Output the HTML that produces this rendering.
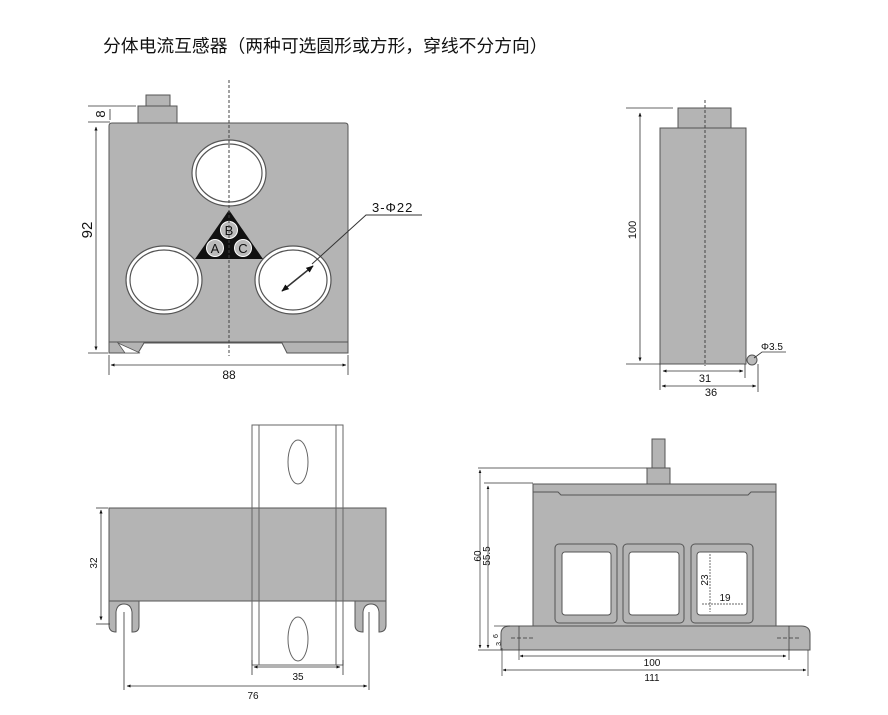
<!DOCTYPE html>
<html><head><meta charset="utf-8"><style>
html,body{margin:0;padding:0;background:#fff;width:888px;height:715px;overflow:hidden}
svg{display:block}
text{font-family:"Liberation Sans","Noto Sans CJK SC",sans-serif;fill:#111}
</style></head><body>
<svg width="888" height="715" viewBox="0 0 888 715" xmlns="http://www.w3.org/2000/svg">
<defs>
<marker id="a" viewBox="0 0 10 10" refX="9" refY="5" markerWidth="5" markerHeight="5" orient="auto-start-reverse"><path d="M0,1L10,5L0,9z" fill="#111"/></marker>
</defs>
<text x="103" y="52" font-size="17.8">分体电流互感器（两种可选圆形或方形，穿线不分方向）</text>

<!-- Drawing 1 -->
<g stroke="#555" stroke-width="1">
<rect x="146" y="95" width="24" height="11" fill="#b4b4b4"/>
<rect x="138" y="106" width="39" height="17" fill="#b4b4b4"/>
<path d="M109,126 Q109,123 112,123 L345,123 Q348,123 348,126 L348,342 L109,342Z" fill="#b4b4b4"/>
<path d="M109,342 L348,342 L348,353 L287,353 L282,343 L144,343 L138,353 L109,353Z" fill="#b4b4b4"/>
<path d="M109,353 L109,342" />
</g>
<path d="M118,343 L125,353 L140,353 Z" fill="#fff" stroke="#555" stroke-width="0.8"/>
<g fill="#fff" stroke="#555" stroke-width="1.2">
<ellipse cx="229" cy="173" rx="37" ry="33"/><ellipse cx="229" cy="173" rx="33" ry="29"/>
<ellipse cx="164" cy="280" rx="38" ry="34"/><ellipse cx="164" cy="280" rx="34" ry="30"/>
<ellipse cx="293" cy="280" rx="38" ry="34"/><ellipse cx="293" cy="280" rx="34" ry="30"/>
</g>
<path d="M229,210 L263,259 L195,259Z" fill="#111"/>
<g fill="#bbb" stroke="#fff" stroke-width="1"><circle cx="229" cy="230" r="8.5"/><circle cx="215" cy="248" r="8.5"/><circle cx="243" cy="248" r="8.5"/></g>
<text x="229" y="235" font-size="13" text-anchor="middle">B</text>
<text x="215" y="253" font-size="13" text-anchor="middle">A</text>
<text x="243" y="253" font-size="13" text-anchor="middle">C</text>
<line x1="229" y1="80" x2="229" y2="356" stroke="#444" stroke-dasharray="3,2" stroke-width="1"/>
<line x1="282" y1="291" x2="313" y2="266" stroke="#333" stroke-width="1.5" marker-start="url(#a)" marker-end="url(#a)"/>
<polyline points="312,264 366,215 422,215" fill="none" stroke="#333" stroke-width="1"/>
<text x="372" y="212" font-size="13" letter-spacing="1">3-Φ22</text>
<g stroke="#333" stroke-width="0.8" fill="none">
<line x1="88" y1="106" x2="136" y2="106"/><line x1="88" y1="122" x2="110" y2="122"/>
<line x1="96" y1="127" x2="96" y2="350" marker-start="url(#a)" marker-end="url(#a)"/>
<line x1="88" y1="353" x2="108" y2="353"/>
<line x1="111" y1="365" x2="346" y2="365" marker-start="url(#a)" marker-end="url(#a)"/>
<line x1="109" y1="355" x2="109" y2="375"/><line x1="348" y1="355" x2="348" y2="375"/>
<line x1="110" y1="109" x2="110" y2="120"/>
</g>
<text transform="translate(92,230) rotate(-90)" font-size="15" text-anchor="middle">92</text>
<text transform="translate(105,114) rotate(-90)" font-size="13" text-anchor="middle">8</text>
<text x="229" y="379" font-size="12" text-anchor="middle">88</text>

<!-- Drawing 2 -->
<g stroke="#555" stroke-width="1" fill="#b4b4b4">
<rect x="678" y="108" width="53" height="20"/>
<rect x="660" y="128" width="86" height="236"/>
</g>
<line x1="705" y1="100" x2="705" y2="366" stroke="#444" stroke-dasharray="3,2"/>
<circle cx="752" cy="360" r="5" fill="#bbb" stroke="#555"/>
<g stroke="#333" stroke-width="0.8" fill="none">
<line x1="626" y1="108" x2="673" y2="108"/><line x1="626" y1="364" x2="660" y2="364"/>
<line x1="640" y1="113" x2="640" y2="361" marker-start="url(#a)" marker-end="url(#a)"/>
<line x1="660" y1="364" x2="660" y2="390"/><line x1="745" y1="364" x2="745" y2="378"/><line x1="758" y1="364" x2="758" y2="392"/>
<line x1="663" y1="371" x2="743" y2="371" marker-start="url(#a)" marker-end="url(#a)"/>
<line x1="662" y1="386" x2="756" y2="386" marker-start="url(#a)" marker-end="url(#a)"/>
<polyline points="754,358 762,352 786,352"/>
</g>
<text transform="translate(636,230) rotate(-90)" font-size="11" text-anchor="middle">100</text>
<text x="705" y="382" font-size="11" text-anchor="middle">31</text>
<text x="711" y="396" font-size="11" text-anchor="middle">36</text>
<text x="761" y="350" font-size="10">Φ3.5</text>

<!-- Drawing 3 -->
<rect x="109" y="508" width="277" height="93" fill="#b4b4b4" stroke="#555"/>
<g fill="none" stroke="#666" stroke-width="1">
<rect x="252" y="425" width="91" height="240"/>
<line x1="259" y1="425" x2="259" y2="665"/><line x1="336" y1="425" x2="336" y2="665"/>
<ellipse cx="298" cy="462" rx="10" ry="22"/><ellipse cx="298" cy="639" rx="10" ry="22"/>
</g>
<g fill="#b4b4b4" stroke="#555">
<path d="M109,601 L139,601 L139,626 Q139,632 133,632 L132,632 L132,612 Q131,604 124,604 Q117,604 116,612 L116,632 Q109,632 109,625Z"/>
<path d="M355,601 L386,601 L386,625 Q386,632 379,632 L379,612 Q378,604 371,604 Q364,604 363,612 L363,632 Q355,632 355,625Z"/>
</g>
<g stroke="#333" stroke-width="0.8" fill="none">
<line x1="96" y1="508" x2="108" y2="508"/><line x1="96" y1="624" x2="110" y2="624"/>
<line x1="101" y1="510" x2="101" y2="620" marker-start="url(#a)" marker-end="url(#a)"/>
<line x1="124" y1="612" x2="124" y2="690"/><line x1="369" y1="612" x2="369" y2="690"/>
<line x1="252" y1="660" x2="252" y2="675"/><line x1="343" y1="660" x2="343" y2="675"/>
<line x1="254" y1="667" x2="340" y2="667" marker-start="url(#a)" marker-end="url(#a)"/>
<line x1="127" y1="686" x2="367" y2="686" marker-start="url(#a)" marker-end="url(#a)"/>
</g>
<text transform="translate(97,563) rotate(-90)" font-size="10" text-anchor="middle">32</text>
<text x="298" y="680" font-size="10" text-anchor="middle">35</text>
<text x="253" y="699" font-size="10" text-anchor="middle">76</text>

<!-- Drawing 4 -->
<g stroke="#555" stroke-width="1" fill="#b4b4b4">
<rect x="652" y="439" width="13" height="29"/>
<rect x="647" y="468" width="23" height="16"/>
<rect x="533" y="484" width="243" height="142"/>
<path d="M501,634 Q501,626 510,626 L801,626 Q810,626 810,634 L810,650 L501,650Z"/>
<rect x="555" y="544" width="62" height="79" rx="4"/>
<rect x="623" y="544" width="61" height="79" rx="4"/>
<rect x="691" y="544" width="62" height="79" rx="4"/>
</g>
<path d="M533,492 L558,492 L561,495 L748,495 L751,492 L776,492" fill="none" stroke="#555"/>
<g fill="#fff" stroke="#555">
<rect x="562" y="552" width="49" height="63" rx="3"/>
<rect x="629" y="552" width="50" height="63" rx="3"/>
<rect x="697" y="552" width="50" height="63" rx="3"/>
</g>
<g stroke="#333" stroke-width="0.7" fill="none">
<line x1="478" y1="468" x2="647" y2="468"/><line x1="484" y1="483" x2="533" y2="483"/>
<line x1="480" y1="470" x2="480" y2="648" marker-start="url(#a)" marker-end="url(#a)"/>
<line x1="488" y1="486" x2="488" y2="648" marker-start="url(#a)" marker-end="url(#a)"/>
<line x1="478" y1="650" x2="502" y2="650"/><line x1="494" y1="626" x2="510" y2="626"/>
<line x1="519" y1="626" x2="519" y2="660"/><line x1="789" y1="626" x2="789" y2="660"/>
<line x1="502" y1="648" x2="502" y2="676"/><line x1="808" y1="650" x2="808" y2="676"/>
<line x1="511" y1="638" x2="535" y2="638" stroke-dasharray="4,2"/><line x1="777" y1="638" x2="800" y2="638" stroke-dasharray="4,2"/>
<line x1="520" y1="656" x2="786" y2="656" marker-start="url(#a)" marker-end="url(#a)"/>
<line x1="503" y1="670" x2="806" y2="670" marker-start="url(#a)" marker-end="url(#a)"/>
<line x1="710" y1="554" x2="710" y2="612" stroke-dasharray="2,1"/>
<line x1="702" y1="604" x2="743" y2="604" stroke-dasharray="2,1"/>
</g>
<text transform="translate(481,556) rotate(-90)" font-size="10" text-anchor="middle">60</text>
<text transform="translate(490,556) rotate(-90)" font-size="10" text-anchor="middle">55.5</text>
<text transform="translate(498,636) rotate(-90)" font-size="7" text-anchor="middle">6</text>
<text transform="translate(501,643) rotate(-90)" font-size="7" text-anchor="middle">3.</text>
<text transform="translate(708,580) rotate(-90)" font-size="10" text-anchor="middle">23</text>
<text x="725" y="601" font-size="10" text-anchor="middle">19</text>
<text x="652" y="666" font-size="10" text-anchor="middle">100</text>
<text x="652" y="681" font-size="10" text-anchor="middle">111</text>
</svg>
</body></html>
